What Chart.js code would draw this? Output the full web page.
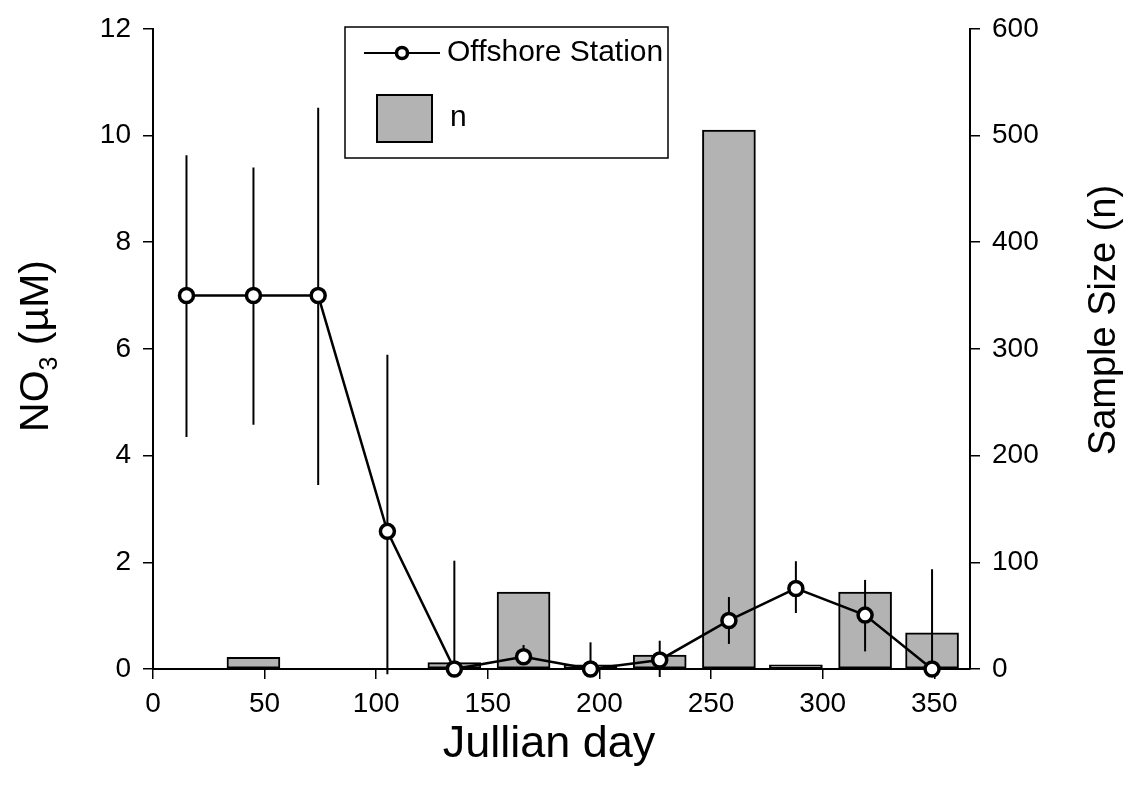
<!DOCTYPE html>
<html>
<head>
<meta charset="utf-8">
<title>NO3 - Offshore Station</title>
<script src="https://cdn.jsdelivr.net/npm/chart.js@4.4.1/dist/chart.umd.min.js"></script>
<style>
  html, body { margin: 0; padding: 0; background: #fff; }
  #wrap { width: 1133px; height: 795px; }
</style>
</head>
<body>
<div id="wrap"><canvas id="no3Chart" width="1133" height="795"></canvas></div>
<script>
// Julian day of each monthly sample
const days = [15, 45, 74, 105, 135, 166, 196, 227, 258, 288, 319, 349];
// NO3 (uM) at the offshore station, with error bar ends
const no3 = [7.0, 7.0, 7.0, 2.58, 0, 0.23, 0, 0.17, 0.91, 1.51, 1.01, 0];
const no3Low = [4.35, 4.58, 3.45, -0.1, 0, 0.08, 0, -0.15, 0.47, 1.05, 0.33, 0];
const no3High = [9.63, 9.4, 10.52, 5.89, 2.03, 0.45, 0.5, 0.53, 1.35, 2.02, 1.67, 1.87];
// sample size per month (null = no bar)
const sampleN = [null, 11, null, null, 6, 72, 4, 13, 505, 4, 72, 34];
const xTicks = [0, 50, 100, 150, 200, 250, 300, 350];

const FONT = '"Liberation Sans", Arial, sans-serif';

// error bars, drawn just before the line so markers sit on top
const errorBars = {
    id: 'errorBars',
    beforeDatasetDraw(chart, args) {
        if (args.index !== 0) return;
        const ctx = chart.ctx;
        const xs = chart.scales.x;
        const ys = chart.scales.y;
        ctx.save();
        ctx.strokeStyle = '#000';
        ctx.lineWidth = 2;
        days.forEach((d, i) => {
            const px = xs.getPixelForValue(d);
            ctx.beginPath();
            ctx.moveTo(px, ys.getPixelForValue(no3Low[i]));
            ctx.lineTo(px, ys.getPixelForValue(no3High[i]));
            ctx.stroke();
        });
        ctx.restore();
    }
};

// axis titles (left one needs a subscript, right one reads bottom-up)
const axisTitles = {
    id: 'axisTitles',
    afterDraw(chart) {
        const ctx = chart.ctx;
        ctx.save();
        ctx.fillStyle = '#000';
        ctx.textBaseline = 'middle';

        ctx.font = '45px ' + FONT;
        ctx.textAlign = 'center';
        ctx.fillText('Jullian day', 549, 745);

        // left title: NO3 (µM)
        ctx.save();
        ctx.translate(37, 346);
        ctx.rotate(-Math.PI / 2);
        const big = '41px ' + FONT;
        const small = '25px ' + FONT;
        ctx.font = big;
        const w1 = ctx.measureText('NO').width;
        const w3 = ctx.measureText(' (\u00b5M)').width;
        ctx.font = small;
        const w2 = ctx.measureText('3').width;
        let x = -(w1 + w2 + w3) / 2;
        ctx.textAlign = 'left';
        ctx.font = big;
        ctx.fillText('NO', x, 0);
        x += w1;
        ctx.font = small;
        ctx.fillText('3', x, 13);
        x += w2;
        ctx.font = big;
        ctx.fillText(' (\u00b5M)', x, 0);
        ctx.restore();

        // right title
        ctx.save();
        ctx.translate(1105, 320);
        ctx.rotate(-Math.PI / 2);
        ctx.font = '38px ' + FONT;
        ctx.textAlign = 'center';
        ctx.fillText('Sample Size (n)', 0, 0);
        ctx.restore();

        ctx.restore();
    }
};

// boxed legend inside the plot
const boxLegend = {
    id: 'boxLegend',
    afterDraw(chart) {
        const ctx = chart.ctx;
        const lineSet = chart.data.datasets[0];
        const barSet = chart.data.datasets[1];
        ctx.save();
        ctx.fillStyle = '#fff';
        ctx.fillRect(345, 27, 323, 131);
        ctx.strokeStyle = '#000';
        ctx.lineWidth = 1.5;
        ctx.strokeRect(345, 27, 323, 131);

        // line sample
        ctx.lineWidth = 2;
        ctx.beginPath();
        ctx.moveTo(364, 53);
        ctx.lineTo(440, 53);
        ctx.stroke();
        ctx.beginPath();
        ctx.arc(402, 53, 5.5, 0, Math.PI * 2);
        ctx.fillStyle = lineSet.pointBackgroundColor;
        ctx.fill();
        ctx.lineWidth = 3.5;
        ctx.stroke();

        // bar sample
        ctx.fillStyle = barSet.backgroundColor;
        ctx.fillRect(377, 95, 55, 47);
        ctx.lineWidth = 2;
        ctx.strokeRect(377, 95, 55, 47);

        ctx.fillStyle = '#000';
        ctx.font = '30px ' + FONT;
        ctx.textBaseline = 'middle';
        ctx.textAlign = 'left';
        ctx.fillText(lineSet.label, 447, 53);
        ctx.fillText(barSet.label, 450, 118);
        ctx.restore();
    }
};

const tickFont = { family: FONT, size: 28 };

new Chart(document.getElementById('no3Chart').getContext('2d'), {
    data: {
        datasets: [{
            type: 'line',
            label: 'Offshore Station',
            data: days.map((d, i) => ({ x: d, y: no3[i] })),
            yAxisID: 'y',
            borderColor: '#000',
            borderWidth: 2.5,
            pointRadius: 7,
            pointBorderWidth: 3.5,
            pointBackgroundColor: '#fff',
            pointBorderColor: '#000',
            tension: 0,
            clip: false,
            order: 0
        }, {
            type: 'bar',
            label: 'n',
            data: days.map((d, i) => ({ x: d, y: sampleN[i] })),
            yAxisID: 'y2',
            backgroundColor: '#b3b3b3',
            borderColor: '#000',
            borderWidth: 2,
            borderSkipped: false,
            barThickness: 53,
            order: 1
        }]
    },
    options: {
        responsive: false,
        animation: false,
        layout: { padding: { top: 27, left: 0, right: 0, bottom: 0 } },
        plugins: {
            legend: { display: false },
            tooltip: { enabled: false }
        },
        scales: {
            x: {
                type: 'linear',
                min: 0,
                max: 366,
                offset: false,
                afterBuildTicks: s => { s.ticks = xTicks.map(v => ({ value: v })); },
                afterFit: s => { s.height = 126; },
                grid: { offset: false, drawOnChartArea: false, color: '#000', tickLength: 10, lineWidth: 1.5 },
                border: { color: '#000', width: 2 },
                ticks: { color: '#000', font: tickFont, padding: 8, maxRotation: 0 }
            },
            y: {
                position: 'left',
                min: 0,
                max: 12,
                ticks: { stepSize: 2, color: '#000', font: tickFont, padding: 12 },
                afterFit: s => { s.width = 153; },
                grid: { drawOnChartArea: false, color: '#000', tickLength: 10, lineWidth: 1.5 },
                border: { color: '#000', width: 2 }
            },
            y2: {
                position: 'right',
                min: 0,
                max: 600,
                ticks: { stepSize: 100, color: '#000', font: tickFont, padding: 12 },
                afterFit: s => { s.width = 163; },
                grid: { drawOnChartArea: false, color: '#000', tickLength: 10, lineWidth: 1.5 },
                border: { color: '#000', width: 2 }
            }
        }
    },
    plugins: [errorBars, axisTitles, boxLegend]
});
</script>
</body>
</html>
